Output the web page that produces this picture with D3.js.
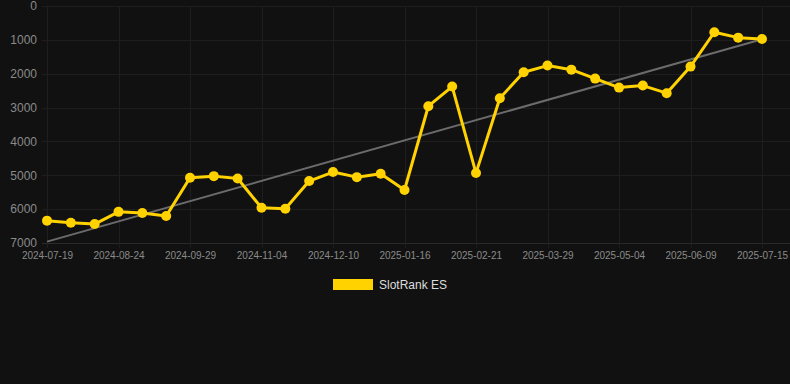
<!DOCTYPE html>
<html>
<head>
<meta charset="utf-8">
<script src="https://cdn.jsdelivr.net/npm/d3@7"></script>
<style>
  html, body { margin: 0; padding: 0; background: #111111; }
  svg { display: block; font-family: "Liberation Sans", Arial, sans-serif; }
</style>
</head>
<body>
<div id="container"></div>
<script>
const dates = ['2024-07-19','2024-07-31','2024-08-12','2024-08-24','2024-09-05','2024-09-17','2024-09-29','2024-10-11','2024-10-23','2024-11-04','2024-11-16','2024-11-28','2024-12-10','2024-12-22','2025-01-03','2025-01-16','2025-01-28','2025-02-09','2025-02-21','2025-03-05','2025-03-17','2025-03-29','2025-04-10','2025-04-22','2025-05-04','2025-05-16','2025-05-28','2025-06-09','2025-06-21','2025-07-03','2025-07-15'];
const ranks = [6340,6400,6440,6080,6115,6205,5075,5025,5095,5960,5990,5170,4905,5055,4955,5435,2960,2380,4935,2725,1955,1760,1880,2145,2410,2350,2575,1790,775,935,975];
const trend = [6960, 980];
const yTicks = [0,1000,2000,3000,4000,5000,6000,7000];
const seriesName = 'SlotRank ES';

const w = 790;
const h = 384;
const padLeft = 47, padRight = 762, padTop = 6, padBottom = 243;

const svg = d3.select('#container')
              .append('svg')
              .attr('width', w)
              .attr('height', h);

const xScale = d3.scalePoint()
                 .domain(dates)
                 .range([padLeft, padRight]);
const yScale = d3.scaleLinear()
                 .domain([0, 7000])
                 .range([padTop, padBottom]);

// grid
svg.append('g')
   .selectAll('line')
   .data(yTicks)
   .enter()
   .append('line')
   .attr('x1', 42)
   .attr('x2', w)
   .attr('y1', (d) => Math.round(yScale(d)) + 0.5)
   .attr('y2', (d) => Math.round(yScale(d)) + 0.5)
   .attr('stroke', (d) => d === 7000 ? '#2a2a2a' : '#1e1e1e')
   .attr('stroke-width', 1);

const tickDates = dates.filter((d, i) => i % 3 === 0);

svg.append('g')
   .selectAll('line')
   .data(tickDates)
   .enter()
   .append('line')
   .attr('x1', (d) => Math.round(xScale(d)) + 0.5)
   .attr('x2', (d) => Math.round(xScale(d)) + 0.5)
   .attr('y1', padTop)
   .attr('y2', padBottom + 5)
   .attr('stroke', '#1e1e1e')
   .attr('stroke-width', 1);

// axes labels
const yAxis = d3.axisLeft(yScale).tickValues(yTicks).tickSize(0).tickPadding(0).tickFormat((d) => d);
svg.append('g')
   .attr('transform', 'translate(37,0)')
   .call(yAxis)
   .call((g) => g.select('.domain').remove())
   .selectAll('text')
   .attr('fill', '#8a8a8a')
   .style('font-size', '12px')
   .style('font-family', '"Liberation Sans", Arial, sans-serif');

const xAxis = d3.axisBottom(xScale).tickValues(tickDates).tickSize(0).tickPadding(0);
svg.append('g')
   .attr('transform', 'translate(0,' + (padBottom + 7) + ')')
   .call(xAxis)
   .call((g) => g.select('.domain').remove())
   .selectAll('text')
   .attr('fill', '#8a8a8a')
   .attr('dy', '0.9em')
   .style('font-size', '10px')
   .style('font-family', '"Liberation Sans", Arial, sans-serif');

// trend line
svg.append('line')
   .attr('x1', xScale(dates[0]))
   .attr('y1', yScale(trend[0]))
   .attr('x2', xScale(dates[dates.length - 1]))
   .attr('y2', yScale(trend[1]))
   .attr('stroke', '#6b6b6b')
   .attr('stroke-width', 2);

// series
const line = d3.line()
               .x((d, i) => xScale(dates[i]))
               .y((d) => yScale(d));

svg.append('path')
   .datum(ranks)
   .attr('d', line)
   .attr('fill', 'none')
   .attr('stroke', '#ffd200')
   .attr('stroke-width', 3)
   .attr('stroke-linejoin', 'round');

svg.selectAll('circle')
   .data(ranks)
   .enter()
   .append('circle')
   .attr('cx', (d, i) => xScale(dates[i]))
   .attr('cy', (d) => yScale(d))
   .attr('r', 5)
   .attr('fill', '#ffd200');

// legend
svg.append('rect')
   .attr('x', 333)
   .attr('y', 279)
   .attr('width', 40)
   .attr('height', 11)
   .attr('fill', '#ffd200');

svg.append('text')
   .attr('x', 379)
   .attr('y', 289)
   .attr('fill', '#dddddd')
   .style('font-size', '12px')
   .text(seriesName);
</script>
</body>
</html>
